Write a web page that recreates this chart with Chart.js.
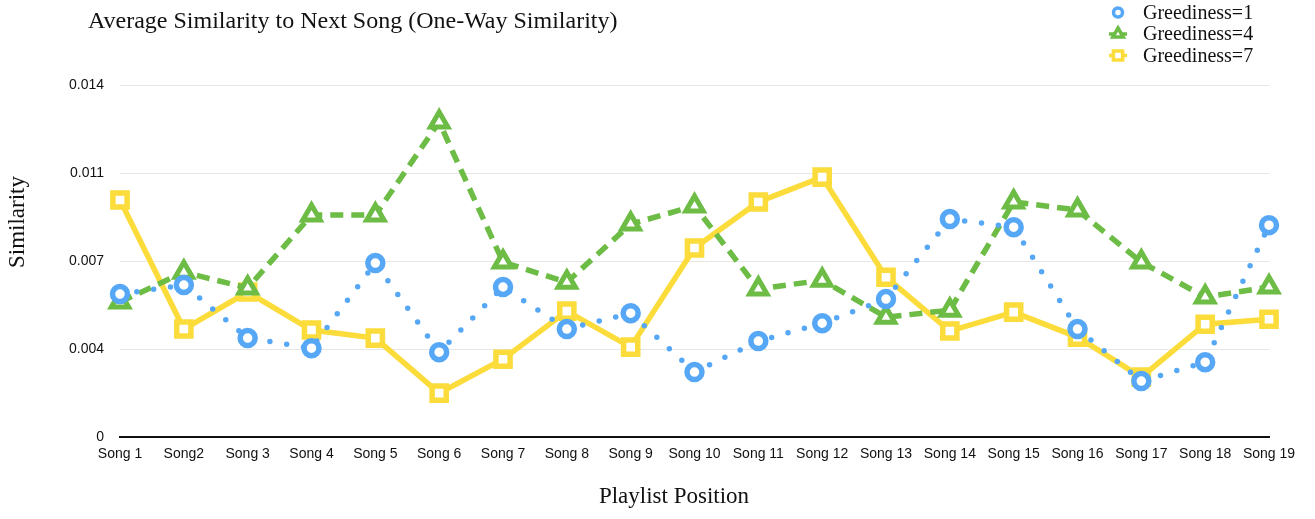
<!DOCTYPE html>
<html>
<head>
<meta charset="utf-8">
<script src="https://cdn.jsdelivr.net/npm/chart.js@4/dist/chart.umd.min.js"></script>
<style>
  html, body { margin: 0; padding: 0; background: #fff; }
</style>
</head>
<body>
<canvas id="chart" width="1315" height="519"></canvas>
<script>
// values
const songs = ['Song 1', 'Song2', 'Song 3', 'Song 4', 'Song 5', 'Song 6', 'Song 7', 'Song 8', 'Song 9', 'Song 10',
  'Song 11', 'Song 12', 'Song 13', 'Song 14', 'Song 15', 'Song 16', 'Song 17', 'Song 18', 'Song 19'];

const greedy1 = [0.00569, 0.00605, 0.00394, 0.00354, 0.00692, 0.00338, 0.00597, 0.00430, 0.00493, 0.00259,
  0.00382, 0.00453, 0.00549, 0.00867, 0.00835, 0.00430, 0.00223, 0.00298, 0.00843];
const greedy4 = [0.00537, 0.00656, 0.00593, 0.00883, 0.00883, 0.01253, 0.00696, 0.00616, 0.00847, 0.00919,
  0.00589, 0.00624, 0.00477, 0.00505, 0.00935, 0.00903, 0.00696, 0.00557, 0.00597];
const greedy7 = [0.00943, 0.00430, 0.00577, 0.00426, 0.00394, 0.00175, 0.00310, 0.00501, 0.00358, 0.00752,
  0.00935, 0.01034, 0.00636, 0.00422, 0.00497, 0.00398, 0.00239, 0.00449, 0.00469];

const seriesNames = ['Greediness=1', 'Greediness=4', 'Greediness=7'];
const yTickLabels = ['0', '0.004', '0.007', '0.011', '0.014'];

const chartTitle = 'Average Similarity to Next Song (One-Way Similarity)';
const xTitle = 'Playlist Position';
const yTitle = 'Similarity';

const BLUE = '#56a8f6';
const GREEN = '#6cbc45';
const YELLOW = '#fbdc3b';
const SERIF = '"Liberation Serif", "Times New Roman", serif';

// eslint-disable-next-line no-undef
Chart.defaults.font.family = '"Liberation Sans", Arial, sans-serif';
// eslint-disable-next-line no-undef
Chart.defaults.color = '#111';

// title, axis titles and legend sit where the original put them (not centred on the plot)
const extraText = {
  id: 'extraText',
  afterDraw: (ch) => {
    const { ctx } = ch;
    ctx.save();
    ctx.fillStyle = '#111';
    ctx.font = `24px ${SERIF}`;
    ctx.textAlign = 'left';
    ctx.textBaseline = 'alphabetic';
    ctx.fillText(chartTitle, 88, 28);

    ctx.font = `23px ${SERIF}`;
    ctx.textAlign = 'center';
    ctx.textBaseline = 'middle';
    ctx.fillText(xTitle, 674, 497);
    ctx.save();
    ctx.translate(18, 222);
    ctx.rotate(-Math.PI / 2);
    ctx.fillText(yTitle, 0, 0);
    ctx.restore();

    // legend, stacked in the top right corner
    const markerSizes = [4.5, 6, 6.5];
    const stubs = [0, 9, 9];
    ctx.font = `20px ${SERIF}`;
    ctx.textAlign = 'left';
    ch.data.datasets.forEach((ds, i) => {
      const x = 1118;
      const y = 12.5 + i * 21.5;
      ctx.strokeStyle = ds.borderColor;
      ctx.lineWidth = 3.5;
      if (stubs[i]) {
        ctx.beginPath();
        ctx.moveTo(x - stubs[i], y);
        ctx.lineTo(x + stubs[i], y);
        ctx.stroke();
      }
      ctx.fillStyle = '#fff';
      // eslint-disable-next-line no-undef
      Chart.helpers.drawPoint(ctx, {
        pointStyle: ds.pointStyle, radius: markerSizes[i], borderWidth: 3.5, rotation: 0,
      }, x, y);
      ctx.fillStyle = '#111';
      ctx.fillText(ds.label, 1143, y + 1);
    });
    ctx.restore();
  },
};

// eslint-disable-next-line no-undef
const chart = new Chart(document.getElementById('chart'), {
  type: 'line',
  data: {
    labels: songs,
    datasets: [{
      label: seriesNames[0],
      data: greedy1,
      borderColor: BLUE,
      borderWidth: 5.5,
      borderDash: [0, 17],
      borderCapStyle: 'round',
      pointStyle: 'circle',
      pointRadius: 7.5,
      pointBorderWidth: 5.5,
      pointBackgroundColor: '#fff',
      pointBorderColor: BLUE,
    },
    {
      label: seriesNames[1],
      data: greedy4,
      borderColor: GREEN,
      borderWidth: 5.5,
      borderDash: [13, 8],
      pointStyle: 'triangle',
      pointRadius: 10,
      pointBorderWidth: 5,
      pointBackgroundColor: '#fff',
      pointBorderColor: GREEN,
    },
    {
      label: seriesNames[2],
      data: greedy7,
      borderColor: YELLOW,
      borderWidth: 5.5,
      pointStyle: 'rect',
      pointRadius: 10,
      pointBorderWidth: 5.5,
      pointBackgroundColor: '#fff',
      pointBorderColor: YELLOW,
    }],
  },
  plugins: [extraText],
  options: {
    responsive: false,
    animation: false,
    layout: {
      padding: {
        left: 60, right: 46, top: 85, bottom: 47,
      },
    },
    datasets: {
      line: {
        tension: 0,
        clip: false,
      },
    },
    plugins: {
      legend: { display: false },
      tooltip: { enabled: false },
      title: { display: false },
    },
    scales: {
      x: {
        grid: { display: false, drawTicks: false },
        border: { display: true, color: '#111', width: 2 },
        ticks: {
          padding: 9,
          maxRotation: 0,
          autoSkip: false,
          font: { size: 14 },
        },
      },
      y: {
        min: 0,
        max: 0.014,
        afterFit: (scale) => {
          // fixed width so the plot starts where the original one does
          scale.width = 60;
        },
        grid: { color: '#e6e6e6', lineWidth: 1, drawTicks: false },
        border: { display: false },
        ticks: {
          stepSize: 0.0035,
          padding: 16,
          font: { size: 14 },
          callback: (value, index) => yTickLabels[index],
        },
      },
    },
  },
});
</script>
</body>
</html>
